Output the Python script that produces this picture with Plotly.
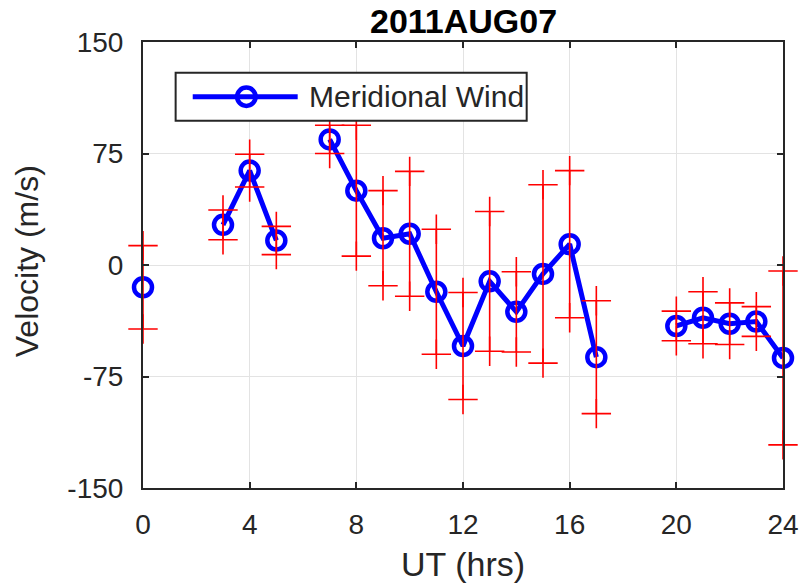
import plotly.graph_objects as go

# ---- data ----
hours = [0, 1, 2, 3, 4, 5, 6, 7, 8, 9, 10, 11, 12, 13, 14, 15, 16, 17, 18, 19, 20, 21, 22, 23, 24]
wind = [-15, None, None, 27, 63.5, 16.5, None, 84.5, 50, 18, 21, -18, -54.5, -11, -31.5, -6, 14, -62,
        None, None, -41, -35.5, -39.5, -38, -62.5]
err = [28, None, None, 10, 11, 9.5, None, 9.5, 44, 32, 42, 42, 36, 47, 27, 60, 49.5, 38,
       None, None, 10, 17.5, 14, 10, 58.5]
x_ticks = [0, 4, 8, 12, 16, 20, 24]
x_tick_text = ["0", "4", "8", "12", "16", "20", "24"]
y_ticks = [-150, -75, 0, 75, 150]
y_tick_text = ["-150", "-75", "0", "75", "150"]
title_text = "2011AUG07"
series_name = "Meridional Wind"

FONT = "Liberation Sans, Arial, sans-serif"
DARK = "#262626"

ex = [h for h, e in zip(hours, err) if e is not None]
ey = [w for w, e in zip(wind, err) if e is not None]
ee = [e for e in err if e is not None]
ends_x = ex + ex
ends_y = [w + e for w, e in zip(ey, ee)] + [w - e for w, e in zip(ey, ee)]

fig = go.Figure()
fig.add_trace(go.Scatter(
    x=hours, y=wind, mode="lines+markers", name=series_name, connectgaps=False, cliponaxis=False,
    line=dict(color="#0000ff", width=5),
    marker=dict(symbol="circle-open", size=18, color="#0000ff", line=dict(width=4.5, color="#0000ff")),
    showlegend=False))
fig.add_trace(go.Scatter(
    x=ex, y=ey, mode="markers", marker=dict(opacity=0), showlegend=False, hoverinfo="skip",
    cliponaxis=False,
    error_y=dict(type="data", array=ee, visible=True, color="#ff0000", thickness=1.6, width=0)))
fig.add_trace(go.Scatter(
    x=ends_x, y=ends_y, mode="markers", showlegend=False, hoverinfo="skip", cliponaxis=False,
    marker=dict(symbol="cross-thin", size=21, color="#ff0000", line=dict(color="#ff0000", width=1.6))))

axis_common = dict(
    showgrid=True, gridcolor="#e3e3e3", gridwidth=1, zeroline=False, automargin=False,
    showline=True, linecolor=DARK, linewidth=2, mirror="ticks",
    ticks="inside", ticklen=6, tickcolor=DARK, tickwidth=1.5,
    tickfont=dict(family=FONT, size=28, color=DARK))

fig.update_xaxes(range=[0, 24], tickvals=x_ticks, ticktext=x_tick_text, ticklabelstandoff=10, **axis_common)
fig.update_yaxes(range=[-150, 150], tickvals=y_ticks, ticktext=y_tick_text, ticklabelstandoff=12, **axis_common)

# legend box drawn manually (MATLAB style)
lx0, lx1, ly0, ly1 = 0.051, 0.5995, 0.8235, 0.931
lyc = (ly0 + ly1) / 2
shapes = [
    dict(type="rect", xref="paper", yref="paper", x0=lx0, x1=lx1, y0=ly0, y1=ly1,
         line=dict(color=DARK, width=2), fillcolor="white", layer="above"),
    dict(type="line", xref="paper", yref="paper", x0=0.0777, x1=0.2417, y0=lyc, y1=lyc,
         line=dict(color="#0000ff", width=5), layer="above"),
    dict(type="circle", xref="paper", yref="paper", x0=0.1615 - 0.0145, x1=0.1615 + 0.0145,
         y0=lyc - 0.0205, y1=lyc + 0.0205, line=dict(color="#0000ff", width=4.5), layer="above"),
]

annotations = [
    dict(text=series_name, xref="paper", yref="paper", x=0.2557, y=lyc, xanchor="left", yanchor="middle",
         showarrow=False, font=dict(family=FONT, size=30, color=DARK)),
    dict(text="<b>" + title_text + "</b>", xref="paper", yref="paper", x=0.5, y=1.047,
         xanchor="center", yanchor="middle", showarrow=False, font=dict(family=FONT, size=34, color="black")),
    dict(text="Velocity (m/s)", xref="paper", yref="paper", x=-0.18, y=0.508, textangle=-90,
         xanchor="center", yanchor="middle", showarrow=False, font=dict(family=FONT, size=32, color=DARK)),
    dict(text="UT (hrs)", xref="paper", yref="paper", x=0.5, y=-0.17,
         xanchor="center", yanchor="middle", showarrow=False, font=dict(family=FONT, size=34, color=DARK)),
]

fig.update_layout(
    width=805, height=585,
    margin=dict(l=143, r=22, t=42, b=97, autoexpand=False),
    paper_bgcolor="white", plot_bgcolor="white",
    shapes=shapes, annotations=annotations, showlegend=False)

fig.write_html("out.html", config={"displayModeBar": False},
               post_script="document.body.style.margin='0';document.body.style.overflow='hidden';")
